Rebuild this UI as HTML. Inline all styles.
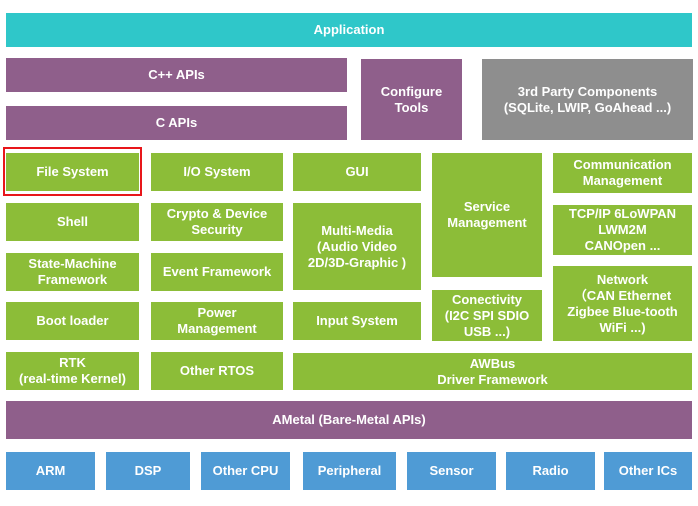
<!DOCTYPE html>
<html><head><style>
body{margin:0;width:698px;height:506px;background:#fff;position:relative;overflow:hidden;font-family:"Liberation Sans",sans-serif;}
.b{position:absolute;display:flex;align-items:center;justify-content:center;text-align:center;color:#fff;font-weight:bold;font-size:13px;line-height:16px;box-sizing:border-box;}
.t{background:#2fc7c9}.p{background:#8f5f8b}.g{background:#8cbd38}.gr{background:#8e8e8e}.bl{background:#4f9bd5}
</style></head><body>
<div class="b t" style="left:6px;top:13px;width:686px;height:34px">Application</div>
<div class="b p" style="left:6px;top:58px;width:341px;height:34px">C++ APIs</div>
<div class="b p" style="left:6px;top:106px;width:341px;height:34px">C APIs</div>
<div class="b p" style="left:361px;top:59px;width:101px;height:81px">Configure<br>Tools</div>
<div class="b gr" style="left:482px;top:59px;width:211px;height:81px">3rd Party Components<br>(SQLite, LWIP, GoAhead ...)</div>

<div style="position:absolute;left:3px;top:147px;width:135px;height:45px;border:2px solid #e8161a"></div>
<div class="b g" style="left:6px;top:153px;width:133px;height:38px">File System</div>
<div class="b g" style="left:151px;top:153px;width:132px;height:38px">I/O System</div>
<div class="b g" style="left:293px;top:153px;width:128px;height:38px">GUI</div>
<div class="b g" style="left:432px;top:153px;width:110px;height:124px">Service<br>Management</div>
<div class="b g" style="left:553px;top:153px;width:139px;height:40px">Communication<br>Management</div>

<div class="b g" style="left:6px;top:203px;width:133px;height:38px">Shell</div>
<div class="b g" style="left:151px;top:203px;width:132px;height:38px">Crypto &amp; Device<br>Security</div>
<div class="b g" style="left:293px;top:203px;width:128px;height:87px">Multi-Media<br>(Audio Video<br>2D/3D-Graphic )</div>
<div class="b g" style="left:553px;top:205px;width:139px;height:50px">TCP/IP 6LoWPAN<br>LWM2M<br>CANOpen ...</div>

<div class="b g" style="left:6px;top:253px;width:133px;height:38px">State-Machine<br>Framework</div>
<div class="b g" style="left:151px;top:253px;width:132px;height:38px">Event Framework</div>
<div class="b g" style="left:553px;top:266px;width:139px;height:75px">Network<br>（CAN Ethernet<br>Zigbee Blue-tooth<br>WiFi ...)</div>
<div class="b g" style="left:432px;top:290px;width:110px;height:51px">Conectivity<br>(I2C SPI SDIO<br>USB ...)</div>

<div class="b g" style="left:6px;top:302px;width:133px;height:38px">Boot loader</div>
<div class="b g" style="left:151px;top:302px;width:132px;height:38px">Power<br>Management</div>
<div class="b g" style="left:293px;top:302px;width:128px;height:38px">Input System</div>

<div class="b g" style="left:6px;top:352px;width:133px;height:38px">RTK<br>(real-time Kernel)</div>
<div class="b g" style="left:151px;top:352px;width:132px;height:38px">Other RTOS</div>
<div class="b g" style="left:293px;top:353px;width:399px;height:37px">AWBus<br>Driver Framework</div>

<div class="b p" style="left:6px;top:401px;width:686px;height:38px">AMetal (Bare-Metal APIs)</div>

<div class="b bl" style="left:6px;top:452px;width:89px;height:38px">ARM</div>
<div class="b bl" style="left:106px;top:452px;width:84px;height:38px">DSP</div>
<div class="b bl" style="left:201px;top:452px;width:89px;height:38px">Other CPU</div>
<div class="b bl" style="left:303px;top:452px;width:93px;height:38px">Peripheral</div>
<div class="b bl" style="left:407px;top:452px;width:89px;height:38px">Sensor</div>
<div class="b bl" style="left:506px;top:452px;width:89px;height:38px">Radio</div>
<div class="b bl" style="left:604px;top:452px;width:88px;height:38px">Other ICs</div>
</body></html>
